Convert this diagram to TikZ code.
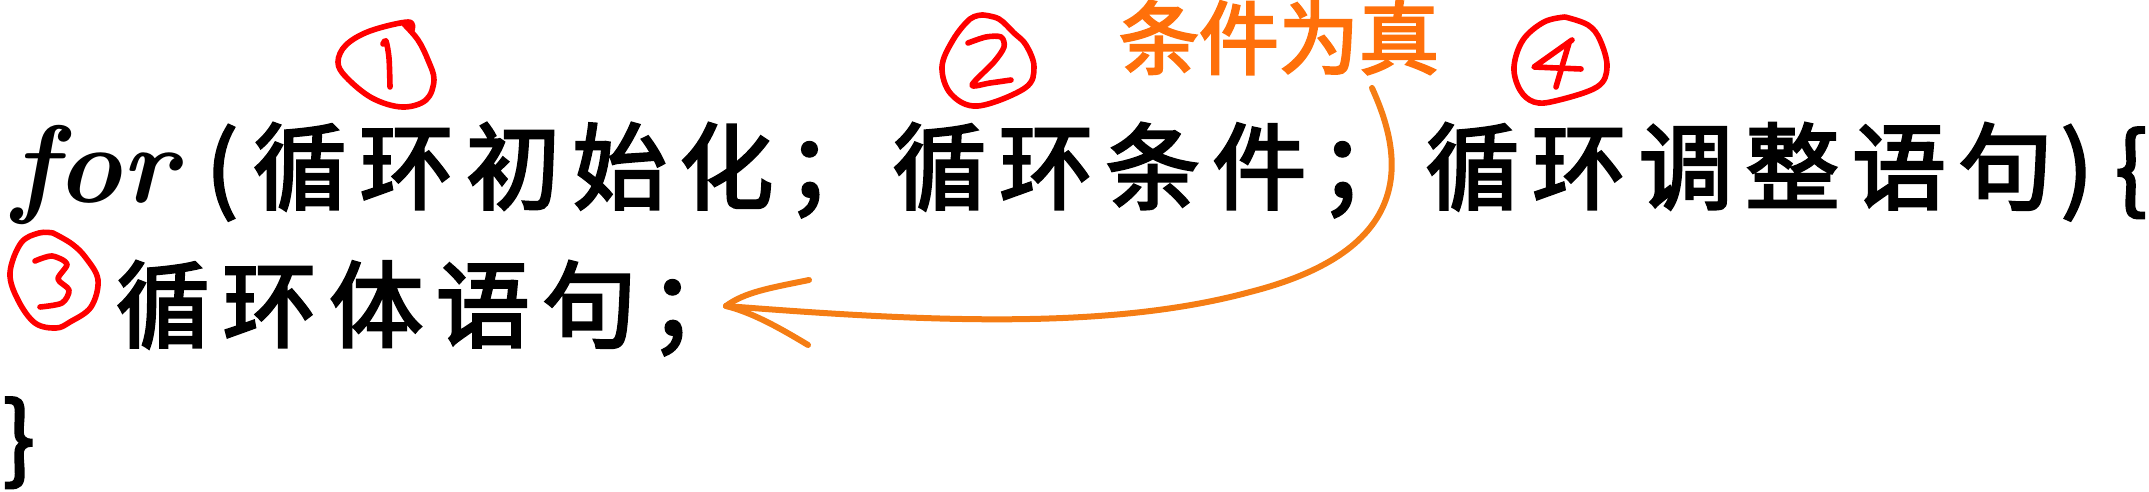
\documentclass[tikz,border=0pt]{standalone}
\usepackage{fontspec}
\newfontfamily\cjk[FakeBold=3]{Noto Sans CJK SC}
\definecolor{hred}{RGB}{255,0,0}
\definecolor{horange}{RGB}{245,125,20}
\definecolor{htorange}{RGB}{255,112,10}
\newcommand\cc[1]{\makebox[53.3pt][c]{#1}}
\begin{document}
\begin{tikzpicture}[x=0.5pt,y=-0.5pt,
  every node/.style={inner sep=0pt,outer sep=0pt},
  codetext/.style={font=\cjk\fontsize{47pt}{47pt}\selectfont,text=black},
  kwtext/.style={font=\bfseries\itshape\fontsize{55pt}{55pt}\selectfont,text=black},
  condtext/.style={font=\cjk\fontsize{40pt}{40pt}\selectfont,text=htorange},
  redmark/.style={draw=hred,line width=2.8pt,line cap=round,line join=round},
  loopline/.style={draw=horange,line width=3pt,line cap=round,line join=round}]
\useasboundingbox (0,0) rectangle (2149,492);
% line 1
\node[kwtext,anchor=base west] (kw) at (12,203) {for};
\node[codetext,anchor=base] (lp) at (222,202) {(};
\node[codetext,anchor=base west] (l1) at (246.7,202)
  {\cc{循}\cc{环}\cc{初}\cc{始}\cc{化}\cc{；}\cc{循}\cc{环}\cc{条}\cc{件}\cc{；}\cc{循}\cc{环}\cc{调}\cc{整}\cc{语}\cc{句}};
\node[codetext,anchor=base] (rp) at (2077,202) {)};
\node[codetext,anchor=base] (lb) at (2131,202) {\{};
% line 2
\node[codetext,anchor=base west] (l2) at (109.7,340)
  {\cc{循}\cc{环}\cc{体}\cc{语}\cc{句}\cc{；}};
% line 3
\node[codetext,anchor=base] (rb) at (19,472) {\}};
% condition label
\node[condtext,anchor=base west] (cond) at (1119,68) {条件为真};
% circled numbers
\draw[redmark] plot[smooth,tension=0.6] coordinates {(404,24) (418,40) (428,60) (434,80) (426,100) (402,107) (372,98) (346,77) (338,62) (346,45) (370,31) (408,22) (412,30)};
\draw[redmark] plot[smooth] coordinates {(383,44) (386,41) (389,58) (390,87)};
\draw[redmark] plot[smooth,tension=0.6] coordinates {(983,15) (999,19) (1014,33) (1026,45) (1034,67) (1025,88) (978,106) (951,94) (942,67) (953,40) (970,19) (983,15)};
\draw[redmark] plot[smooth,tension=0.5] coordinates {(968,43) (986,37) (1001,37) (1004,47) (994,62) (972,85) (990,83) (1011,80)};
\draw[redmark] plot[smooth,tension=0.6] coordinates {(1565,17) (1588,25) (1600,40) (1607,67) (1597,87) (1555,101) (1534,102) (1520,90) (1514,67) (1523,40) (1544,22) (1565,17)};
\draw[redmark] (1572,40) -- (1534,67) -- (1581,69);
\draw[redmark] (1569,43) -- (1556,87);
\draw[redmark] plot[smooth,tension=0.6] coordinates {(53,233) (72,244) (86,258) (98,280) (91,307) (70,322) (56,328) (35,323) (18,300) (10,273) (21,243) (39,233) (53,233)};
\draw[redmark] plot[smooth,tension=0.5] coordinates {(35,261) (52,256) (67,264) (58,279) (69,290) (62,303) (40,307)};
% loop arrow
\coordinate (arrS) at (1372,88);
\coordinate (arrT) at (726,306);
\draw[loopline] (arrS) .. controls (1405,160) and (1415,250) .. (1250,292)
  .. controls (1110,330) and (930,322) .. (arrT);
\draw[loopline] (arrT) .. controls (745,292) and (770,288) .. (809,280);
\draw[loopline] (arrT) .. controls (750,312) and (775,325) .. (808,345);
\end{tikzpicture}
\end{document}
